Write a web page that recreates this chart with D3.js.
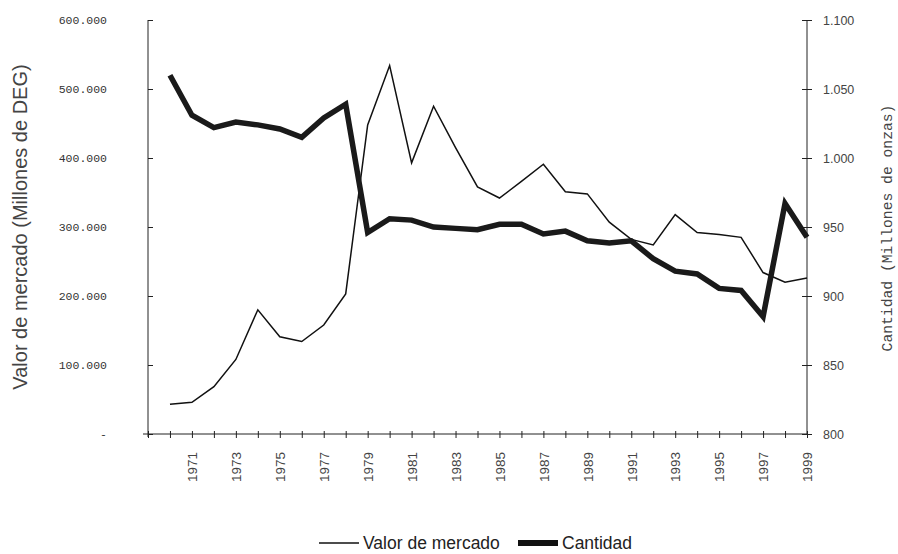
<!DOCTYPE html>
<html>
<head>
<meta charset="utf-8">
<script src="https://cdn.jsdelivr.net/npm/d3@7"></script>
<style>
  body { margin: 0; background: #fff; }
  svg { display: block; }
</style>
</head>
<body>
<svg width="898" height="554"></svg>
<script>
// años 1970-1999
var years = d3.range(1970, 2000);
// valor de mercado, millones de DEG
var valorMercado = [43000, 46000, 68500, 108000, 180000, 141000, 134000, 158000, 203000, 448000,
                    534000, 393000, 475000, 415000, 358000, 342000, 366000, 391000, 351000, 348000,
                    307000, 282000, 274000, 318000, 292000, 289000, 285000, 234000, 220000, 226000];
// cantidad, millones de onzas
var cantidad = [1060, 1031, 1022, 1026, 1024, 1021, 1015, 1029, 1039, 946,
                956, 955, 950, 949, 948, 952, 952, 945, 947, 940,
                938.5, 940, 927, 918, 916, 905.5, 904, 885, 967, 942.5];
var leftTicks = [0, 100000, 200000, 300000, 400000, 500000, 600000];
var rightTicks = [800, 850, 900, 950, 1000, 1050, 1100];
var xTickYears = d3.range(1969, 2000);
var xLabelYears = d3.range(1971, 2000, 2);

var svg = d3.select("svg");
var pLeft = 148, pRight = 807, pTop = 20, pBottom = 434;

var x = d3.scaleLinear().domain([1969, 1999]).range([pLeft, pRight]);
var yL = d3.scaleLinear().domain([0, 600000]).range([pBottom, pTop]);
var yR = d3.scaleLinear().domain([800, 1100]).range([pBottom, pTop]);

var dots = function(v){ return d3.format(",")(v).replace(/,/g, "."); };

// eje izquierdo
var gL = svg.append("g").attr("transform", "translate(" + pLeft + ",0)")
  .call(d3.axisLeft(yL).tickValues(leftTicks).tickSize(5).tickPadding(36)
    .tickFormat(function(d){ return d === 0 ? "-" : dots(d); }));
gL.selectAll(".tick line").attr("x2", 5);
gL.select(".domain").attr("d", "M0," + pTop + "V" + (pBottom + 3));
gL.selectAll("text").attr("font-family", "Liberation Mono, DejaVu Sans Mono, monospace")
  .attr("font-size", 11.5).attr("fill", "#333");

// eje derecho
var gR = svg.append("g").attr("transform", "translate(" + pRight + ",0)")
  .call(d3.axisRight(yR).tickValues(rightTicks).tickSize(5).tickPadding(11)
    .tickFormat(function(d){ return dots(d); }));
gR.selectAll(".tick line").attr("x1", -5);
gR.select(".domain").attr("d", "M0," + pTop + "V" + pBottom);
gR.selectAll("text").attr("font-family", "Liberation Sans, Arial, sans-serif")
  .attr("font-size", 12.5).attr("fill", "#444");

// eje x
var gX = svg.append("g").attr("transform", "translate(0," + pBottom + ")")
  .call(d3.axisBottom(x).tickValues(xTickYears).tickSize(4)
    .tickFormat(function(d){ return xLabelYears.indexOf(d) >= 0 ? d : ""; }));
gX.selectAll(".tick line").attr("y1", -3);
gX.select(".domain").attr("d", "M" + (pLeft - 5) + ",0H" + pRight);
gX.selectAll("text")
  .attr("font-family", "Liberation Sans, Arial, sans-serif")
  .attr("font-size", 13.5).attr("fill", "#444")
  .attr("transform", "rotate(-90)")
  .attr("text-anchor", "end")
  .attr("dy", "0.35em").attr("x", -18).attr("y", 0);

svg.selectAll(".domain, .tick line").attr("stroke", "#222");

// títulos
svg.append("text")
  .attr("transform", "translate(27," + ((pTop + pBottom) / 2) + ") rotate(-90)")
  .attr("text-anchor", "middle")
  .attr("font-family", "Liberation Sans, Arial, sans-serif")
  .attr("font-size", 20).attr("fill", "#444")
  .text("Valor de mercado (Millones de DEG)");
svg.append("text")
  .attr("transform", "translate(892," + ((pTop + pBottom) / 2 + 1) + ") rotate(-90)")
  .attr("text-anchor", "middle")
  .attr("font-family", "Liberation Mono, DejaVu Sans Mono, monospace")
  .attr("font-size", 14.7).attr("fill", "#444")
  .text("Cantidad (Millones de onzas)");

// líneas
var lineL = d3.line().x(function(d, i){ return x(years[i]); }).y(function(d){ return yL(d); });
var lineR = d3.line().x(function(d, i){ return x(years[i]); }).y(function(d){ return yR(d); });

svg.append("path").datum(valorMercado).attr("d", lineL)
  .attr("fill", "none").attr("stroke", "#111").attr("stroke-width", 1.5);
svg.append("path").datum(cantidad).attr("d", lineR)
  .attr("fill", "none").attr("stroke", "#1a1a1a").attr("stroke-width", 5.5)
  .attr("stroke-linejoin", "miter");

// leyenda
var lg = svg.append("g").attr("transform", "translate(0,543)");
lg.append("line").attr("x1", 319).attr("x2", 359).attr("y1", 0).attr("y2", 0)
  .attr("stroke", "#111").attr("stroke-width", 1.5);
lg.append("text").attr("x", 363).attr("y", 0).attr("dy", "0.35em")
  .attr("font-family", "Liberation Sans, Arial, sans-serif").attr("font-size", 17.5).attr("fill", "#222")
  .text("Valor de mercado");
lg.append("rect").attr("x", 518).attr("y", -3).attr("width", 40).attr("height", 6).attr("fill", "#111");
lg.append("text").attr("x", 562).attr("y", 0).attr("dy", "0.35em")
  .attr("font-family", "Liberation Sans, Arial, sans-serif").attr("font-size", 17.5).attr("fill", "#222")
  .text("Cantidad");
</script>
</body>
</html>
